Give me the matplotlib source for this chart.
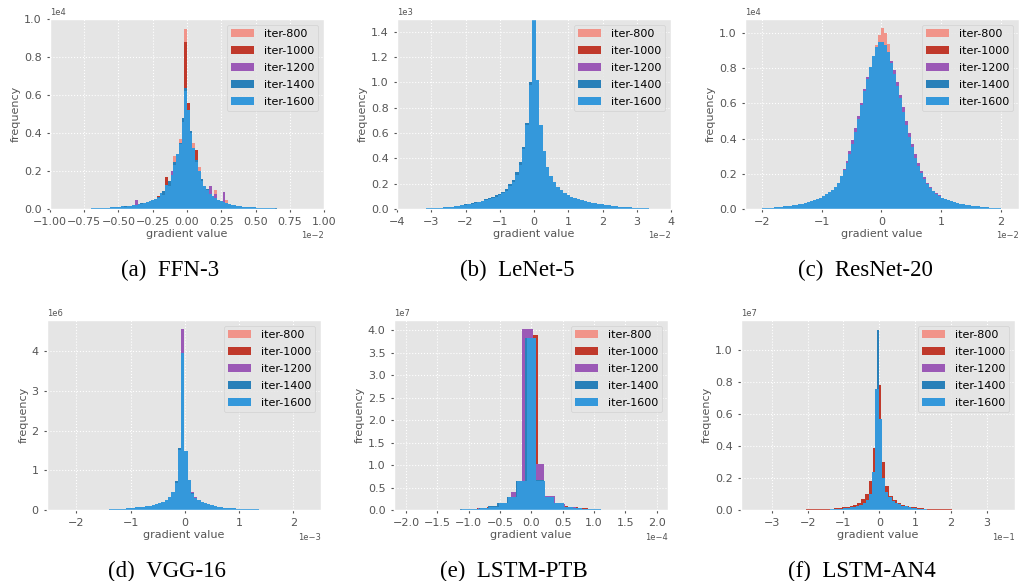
import numpy as np
import matplotlib
matplotlib.use('Agg')
import matplotlib.pyplot as plt
from matplotlib.ticker import MultipleLocator

plt.style.use('ggplot')

iters = ['iter-800', 'iter-1000', 'iter-1200', 'iter-1400', 'iter-1600']
colors = ['#F1948A', '#C0392B', '#9B59B6', '#2980B9', '#3498DB']

# ---- (a) FFN-3 : x in 1e-2, y in 1e4 ----
ffn_lo = [-0.40, -0.40, -0.40, -0.70, -0.70]
ffn_w = [0.02, 0.02, 0.02, 0.02, 0.02]
ffn_h800 = [0.012, 0.014, 0.016, 0.022, 0.024, 0.028, 0.03, 0.036, 0.04, 0.05,
            0.06, 0.07, 0.1, 0.12, 0.15, 0.28, 0.25, 0.37, 0.4, 0.95,
            0.48, 0.36, 0.35, 0.22, 0.22, 0.13, 0.1, 0.085, 0.07, 0.055,
            0.1, 0.04, 0.034, 0.03, 0.047, 0.022, 0.019, 0.017, 0.014, 0.012]
ffn_h1000 = [0.011, 0.013, 0.017, 0.02, 0.023, 0.026, 0.031, 0.034, 0.042, 0.07,
             0.065, 0.075, 0.17, 0.12, 0.16, 0.2, 0.26, 0.3, 0.42, 0.88,
             0.56, 0.37, 0.29, 0.31, 0.18, 0.14, 0.11, 0.09, 0.1, 0.058,
             0.05, 0.042, 0.036, 0.032, 0.027, 0.023, 0.02, 0.018, 0.015, 0.013]
ffn_h1200 = [0.012, 0.045, 0.015, 0.021, 0.025, 0.027, 0.033, 0.05, 0.045, 0.055,
             0.068, 0.085, 0.11, 0.13, 0.2, 0.22, 0.27, 0.33, 0.44, 0.58,
             0.5, 0.38, 0.3, 0.24, 0.19, 0.14, 0.115, 0.095, 0.12, 0.062,
             0.08, 0.044, 0.038, 0.09, 0.028, 0.024, 0.021, 0.018, 0.016, 0.013]
ffn_h1400 = [0.003, 0.004, 0.005, 0.005, 0.006, 0.006, 0.007, 0.007, 0.008, 0.011,
             0.011, 0.013, 0.015, 0.015, 0.017, 0.022, 0.021, 0.024,
             0.03, 0.03, 0.038, 0.039, 0.05,
             0.05, 0.065, 0.072, 0.095, 0.115, 0.15, 0.175, 0.25, 0.28, 0.35,
             0.48, 0.635, 0.5, 0.41, 0.31, 0.26, 0.19, 0.16, 0.115, 0.105,
             0.078, 0.07, 0.054, 0.048, 0.039, 0.036, 0.029, 0.027, 0.021, 0.021,
             0.016, 0.016, 0.011, 0.012, 0.009, 0.01, 0.007,
             0.007, 0.005, 0.004, 0.005, 0.003, 0.004, 0.002, 0.003]
ffn_h1600 = [0.004, 0.005, 0.004, 0.006, 0.005, 0.007, 0.006, 0.008, 0.009, 0.010,
             0.012, 0.014, 0.013, 0.016, 0.018, 0.020, 0.022, 0.025,
             0.028, 0.032, 0.036, 0.040, 0.046,
             0.052, 0.06, 0.085, 0.075, 0.125, 0.12, 0.18, 0.23, 0.29, 0.34,
             0.46, 0.62, 0.52, 0.40, 0.32, 0.25, 0.20, 0.15, 0.12, 0.10,
             0.08, 0.066, 0.056, 0.046, 0.040, 0.035, 0.030, 0.026, 0.022, 0.020,
             0.017, 0.015, 0.012, 0.011, 0.010, 0.009, 0.008,
             0.006, 0.005, 0.005, 0.004, 0.004, 0.003, 0.003, 0.002]

# ---- (b) LeNet-5 : x in 1e-2, y in 1e3 ----
lenet_lo = [-1.55, -1.55, -1.55, -3.15, -3.15]
lenet_w = [0.1, 0.1, 0.1, 0.1, 0.1]
lenet_h800 = [0.058, 0.066, 0.074, 0.083, 0.092, 0.1, 0.115, 0.135, 0.165, 0.195,
              0.25, 0.32, 0.43, 0.6, 0.9, 1.45, 0.93, 0.6, 0.42, 0.3,
              0.24, 0.19, 0.16, 0.138, 0.12, 0.1, 0.09, 0.082, 0.073, 0.065, 0.058]
lenet_h1000 = [0.059, 0.067, 0.075, 0.084, 0.093, 0.102, 0.118, 0.138, 0.168, 0.2,
               0.255, 0.33, 0.44, 0.62, 0.92, 1.5, 0.95, 0.62, 0.43, 0.31,
               0.245, 0.195, 0.165, 0.14, 0.122, 0.103, 0.092, 0.083, 0.074, 0.066, 0.059]
lenet_h1200 = [0.06, 0.068, 0.076, 0.085, 0.095, 0.104, 0.12, 0.14, 0.17, 0.2,
               0.26, 0.335, 0.45, 0.63, 0.94, 1.55, 0.97, 0.63, 0.44, 0.315,
               0.25, 0.2, 0.17, 0.148, 0.125, 0.105, 0.093, 0.085, 0.075, 0.067, 0.06]
lenet_h1400 = [0.004, 0.006, 0.007, 0.008, 0.01, 0.012, 0.016, 0.019, 0.023, 0.027,
               0.031, 0.036, 0.041, 0.046, 0.052, 0.059, 0.067, 0.076, 0.086, 0.096,
               0.107, 0.12, 0.138, 0.16, 0.195, 0.23, 0.29, 0.37, 0.49, 0.68,
               1.0, 1.55, 0.98, 0.64, 0.45, 0.33, 0.26, 0.21, 0.17, 0.148,
               0.128, 0.108, 0.096, 0.087, 0.078, 0.07, 0.063, 0.056, 0.05, 0.045,
               0.04, 0.036, 0.032, 0.028, 0.025, 0.021, 0.018, 0.016, 0.013, 0.011,
               0.009, 0.007, 0.006, 0.004, 0.003, 0.003, 0.002]
lenet_h1600 = [0.005, 0.007, 0.006, 0.009, 0.011, 0.013, 0.015, 0.018, 0.022, 0.026,
               0.03, 0.034, 0.039, 0.043, 0.048, 0.055, 0.062, 0.07, 0.079, 0.088,
               0.098, 0.108, 0.125, 0.145, 0.18, 0.21, 0.27, 0.35, 0.47, 0.66,
               0.98, 1.6, 1.02, 0.66, 0.46, 0.33, 0.26, 0.21, 0.175, 0.15,
               0.13, 0.11, 0.097, 0.088, 0.079, 0.071, 0.064, 0.057, 0.051, 0.046,
               0.041, 0.037, 0.033, 0.029, 0.026, 0.022, 0.019, 0.017, 0.014, 0.012,
               0.01, 0.008, 0.006, 0.005, 0.004, 0.003, 0.002]

# ---- (c) ResNet-20 : x in 1e-2, y in 1e4 ----
resnet_lo = [-1.0, -1.0, -1.5, -1.0, -2.0]
resnet_w = [0.05, 0.05, 0.05, 0.05, 0.05]
resnet_h800 = [0.07, 0.078, 0.088, 0.1, 0.112, 0.13, 0.16, 0.2, 0.24, 0.29,
               0.35, 0.42, 0.49, 0.57, 0.65, 0.73, 0.8, 0.87, 0.93, 0.99,
               1.03, 1.0, 0.94, 0.82, 0.75, 0.68, 0.61, 0.53, 0.46, 0.39,
               0.33, 0.28, 0.235, 0.195, 0.165, 0.135, 0.115, 0.097, 0.082, 0.07]
resnet_h1000 = [0.068, 0.076, 0.086, 0.097, 0.11, 0.128, 0.155, 0.19, 0.23, 0.28,
                0.34, 0.41, 0.48, 0.56, 0.64, 0.71, 0.78, 0.85, 0.9, 0.93,
                0.94, 0.92, 0.88, 0.82, 0.76, 0.69, 0.62, 0.54, 0.47, 0.4,
                0.34, 0.285, 0.24, 0.2, 0.165, 0.135, 0.115, 0.097, 0.083, 0.071]
resnet_h1200 = [0.021, 0.024, 0.027, 0.031, 0.035, 0.04, 0.045, 0.05, 0.056, 0.063,
                0.073, 0.083, 0.094, 0.108, 0.125, 0.15, 0.19, 0.23, 0.275, 0.33,
                0.39, 0.46, 0.53, 0.6, 0.68, 0.75, 0.8, 0.85, 0.89, 0.92,
                0.93, 0.92, 0.89, 0.84, 0.79, 0.72, 0.65, 0.58, 0.5, 0.43,
                0.37, 0.31, 0.26, 0.215, 0.18, 0.15, 0.125, 0.105, 0.09, 0.077,
                0.065, 0.057, 0.05, 0.044, 0.038, 0.034, 0.03, 0.026, 0.023, 0.02]
resnet_h1400 = [0.069, 0.077, 0.087, 0.098, 0.111, 0.128, 0.156, 0.185, 0.22, 0.27,
                0.33, 0.40, 0.47, 0.55, 0.63, 0.70, 0.77, 0.84, 0.9, 0.94,
                0.94, 0.92, 0.88, 0.82, 0.76, 0.69, 0.61, 0.54, 0.47, 0.4,
                0.34, 0.28, 0.235, 0.2, 0.165, 0.135, 0.115, 0.097, 0.083, 0.072]
resnet_h1600 = [0.005, 0.006, 0.007, 0.008, 0.009, 0.011, 0.013, 0.015, 0.017, 0.019,
                0.022, 0.025, 0.028, 0.031, 0.035, 0.039, 0.044, 0.049, 0.055, 0.062,
                0.075, 0.085, 0.095, 0.11, 0.125, 0.15, 0.185, 0.22, 0.26, 0.31,
                0.37, 0.44, 0.51, 0.59, 0.67, 0.74, 0.81, 0.87, 0.92, 0.95,
                0.95, 0.93, 0.89, 0.83, 0.77, 0.70, 0.63, 0.55, 0.48, 0.41,
                0.35, 0.29, 0.245, 0.205, 0.17, 0.14, 0.12, 0.10, 0.085, 0.074,
                0.064, 0.056, 0.049, 0.043, 0.038, 0.034, 0.03, 0.027, 0.024, 0.021,
                0.019, 0.017, 0.015, 0.013, 0.011, 0.01, 0.008, 0.007, 0.006, 0.004]

# ---- (d) VGG-16 : x in 1e-3, y in 1e6 ----
vgg_lo = [-0.61, -0.61, -0.61, -0.61, -1.39]
vgg_w = [0.06, 0.06, 0.06, 0.06, 0.06]
vgg_h800 = [0.09, 0.11, 0.13, 0.16, 0.2, 0.25, 0.34, 0.56, 1.15, 3.4, 1.25,
            0.66, 0.42, 0.3, 0.23, 0.18, 0.15, 0.12, 0.1, 0.08, 0.07]
vgg_h1000 = [0.095, 0.115, 0.135, 0.165, 0.2, 0.26, 0.35, 0.58, 1.2, 3.6, 1.3,
             0.68, 0.44, 0.31, 0.24, 0.19, 0.15, 0.12, 0.1, 0.085, 0.07]
vgg_h1200 = [0.1, 0.12, 0.14, 0.17, 0.21, 0.27, 0.36, 0.6, 1.28, 4.55, 1.35,
             0.7, 0.45, 0.32, 0.25, 0.2, 0.16, 0.13, 0.11, 0.09, 0.075]
vgg_h1400 = [0.11, 0.13, 0.15, 0.18, 0.22, 0.28, 0.37, 0.72, 1.56, 3.8, 1.4,
             0.72, 0.44, 0.31, 0.24, 0.19, 0.155, 0.125, 0.1, 0.085, 0.07]
vgg_h1600 = [0.025, 0.025, 0.03, 0.03, 0.035, 0.04, 0.045, 0.055, 0.065, 0.07,
             0.08, 0.095, 0.11, 0.125, 0.145, 0.17, 0.21, 0.26, 0.33, 0.45,
             0.68, 1.52, 3.95, 1.48, 0.76, 0.4, 0.3, 0.25, 0.21, 0.17,
             0.15, 0.12, 0.1, 0.085, 0.07, 0.06, 0.05, 0.045, 0.038, 0.033,
             0.03, 0.027, 0.025, 0.022, 0.02, 0.018]

# ---- (e) LSTM-PTB : x in 1e-4, y in 1e7 ----
ptb_lo = [-1.26, -1.34, -1.205, -1.28, -1.26]
ptb_w = [0.148, 0.16, 0.175, 0.148, 0.148]
ptb_h800 = [0.008, 0.012, 0.025, 0.04, 0.07, 0.14, 0.27, 0.6, 3.7, 0.6,
            0.26, 0.14, 0.07, 0.045, 0.028, 0.014, 0.008]
ptb_h1000 = [0.005, 0.01, 0.02, 0.04, 0.07, 0.13, 0.27, 0.6, 3.9, 0.3,
             0.14, 0.1, 0.06, 0.035, 0.02, 0.01]
ptb_h1200 = [0.01, 0.02, 0.04, 0.07, 0.15, 0.40, 4.03, 1.03, 0.31, 0.13,
             0.06, 0.03, 0.015, 0.01]
ptb_h1400 = [0.01, 0.016, 0.028, 0.05, 0.08, 0.16, 0.3, 0.64, 3.82, 0.67,
             0.27, 0.14, 0.07, 0.045, 0.028, 0.015, 0.01]
ptb_h1600 = [0.01, 0.015, 0.03, 0.045, 0.075, 0.15, 0.29, 0.65, 3.83, 0.65,
             0.28, 0.15, 0.075, 0.05, 0.03, 0.015, 0.01]

# ---- (f) LSTM-AN4 : x in 1e-1, y in 1e7 ----
an4_lo = [-2.04, -2.04, -1.365, -0.70, -1.365]
an4_w = [0.11, 0.11, 0.09, 0.07, 0.09]
an4_h800 = [0.003, 0.004, 0.004, 0.004, 0.004, 0.005, 0.007, 0.012, 0.013, 0.017,
            0.018, 0.022, 0.03, 0.04, 0.06, 0.09, 0.16, 0.35, 0.7, 0.27,
            0.13, 0.08, 0.055, 0.04, 0.028, 0.022, 0.016, 0.014, 0.01, 0.009,
            0.007, 0.004, 0.004, 0.004, 0.004, 0.003, 0.003]
an4_h1000 = [0.004, 0.005, 0.005, 0.005, 0.005, 0.006, 0.008, 0.014, 0.015, 0.019,
             0.02, 0.025, 0.034, 0.045, 0.068, 0.10, 0.18, 0.39, 0.78, 0.30,
             0.15, 0.09, 0.06, 0.046, 0.031, 0.025, 0.018, 0.016, 0.011, 0.01,
             0.008, 0.005, 0.005, 0.005, 0.005, 0.004, 0.004]
an4_h1200 = [0.004, 0.005, 0.006, 0.007, 0.009, 0.012, 0.015, 0.019, 0.024, 0.031,
             0.042, 0.055, 0.09, 0.22, 0.7, 0.52, 0.18, 0.1, 0.072, 0.054,
             0.043, 0.033, 0.026, 0.02, 0.015, 0.012, 0.009, 0.007, 0.005, 0.004]
an4_h1400 = [0.01, 0.013, 0.017, 0.022, 0.03, 0.04, 0.055, 0.09, 0.22, 1.13,
             0.5, 0.15, 0.09, 0.06, 0.045, 0.035, 0.028, 0.02, 0.016, 0.012]
an4_h1600 = [0.005, 0.006, 0.007, 0.008, 0.01, 0.013, 0.016, 0.02, 0.025, 0.033,
             0.045, 0.06, 0.1, 0.24, 0.76, 0.57, 0.2, 0.11, 0.08, 0.058,
             0.046, 0.036, 0.028, 0.022, 0.016, 0.013, 0.01, 0.008, 0.006, 0.005]

captions = ['(a) FFN-3', '(b) LeNet-5', '(c) ResNet-20',
            '(d) VGG-16', '(e) LSTM-PTB', '(f) LSTM-AN4']


def rect(x0, y0, x1, y1):
    # pixel box (top-left origin) -> figure fraction
    return [x0 / 1021, 1 - y1 / 581, (x1 - x0) / 1021, (y1 - y0) / 581]


def panel(ax, los, ws, hs, xs, ys, xlim, ytop, xstep, ystep):
    for lo, w, h, c, lab in zip(los, ws, hs, colors, iters):
        h = np.asarray(h)
        edges = lo + w * np.arange(len(h) + 1)
        ax.stairs(h * ys, edges * xs, fill=True, color=c, label=lab, linewidth=0)
    ax.set_xlim(xlim[0] * xs, xlim[1] * xs)
    ax.set_ylim(0, ytop * ys)
    ax.xaxis.set_major_locator(MultipleLocator(xstep * xs))
    ax.yaxis.set_major_locator(MultipleLocator(ystep * ys))
    ax.ticklabel_format(style='sci', axis='both', scilimits=(0, 0))
    ax.grid(True, color='white', linestyle=':', linewidth=0.8)
    ax.tick_params(labelsize=8, colors='#555555', length=2.5)
    ax.xaxis.get_offset_text().set_fontsize(6)
    ax.yaxis.get_offset_text().set_fontsize(6)
    ax.set_xlabel('gradient value', fontsize=8, color='#555555', labelpad=1)
    ax.set_ylabel('frequency', fontsize=8, color='#555555', labelpad=2)
    ax.legend(loc='upper right', fontsize=8, labelspacing=0.62, handletextpad=0.9)


fig = plt.figure(figsize=(10.21, 5.81), dpi=100)

ax = fig.add_axes(rect(50, 19, 324, 209))
panel(ax, ffn_lo, ffn_w, [ffn_h800, ffn_h1000, ffn_h1200, ffn_h1400, ffn_h1600],
      1e-2, 1e4, (-1.0, 1.0), 1.0, 0.25, 0.2)

ax = fig.add_axes(rect(397, 19, 671, 209))
panel(ax, lenet_lo, lenet_w, [lenet_h800, lenet_h1000, lenet_h1200, lenet_h1400, lenet_h1600],
      1e-2, 1e3, (-4.0, 4.0), 1.5, 1.0, 0.2)

ax = fig.add_axes(rect(745, 19, 1019, 209))
panel(ax, resnet_lo, resnet_w, [resnet_h800, resnet_h1000, resnet_h1200, resnet_h1400, resnet_h1600],
      1e-2, 1e4, (-2.28, 2.30), 1.08, 1.0, 0.2)

ax = fig.add_axes(rect(47, 320, 321, 510))
panel(ax, vgg_lo, vgg_w, [vgg_h800, vgg_h1000, vgg_h1200, vgg_h1400, vgg_h1600],
      1e-3, 1e6, (-2.54, 2.51), 4.78, 1.0, 1.0)

ax = fig.add_axes(rect(394, 320, 668, 510))
panel(ax, ptb_lo, ptb_w, [ptb_h800, ptb_h1000, ptb_h1200, ptb_h1400, ptb_h1600],
      1e-4, 1e7, (-2.19, 2.18), 4.23, 0.5, 0.5)

ax = fig.add_axes(rect(741, 320, 1015, 510))
panel(ax, an4_lo, an4_w, [an4_h800, an4_h1000, an4_h1200, an4_h1400, an4_h1600],
      1e-1, 1e7, (-3.86, 3.79), 1.19, 1.0, 0.2)

cap_x = [170, 517, 865, 167, 514, 862]
cap_y = [276, 276, 276, 577, 577, 577]
for t, x, y in zip(captions, cap_x, cap_y):
    fig.text(x / 1021, 1 - y / 581, t.replace(') ', ')\u2002'), family='Liberation Serif',
             fontsize=16.5, ha='center', va='baseline', color='black')

fig.savefig('out.png', dpi=100, facecolor='white')
